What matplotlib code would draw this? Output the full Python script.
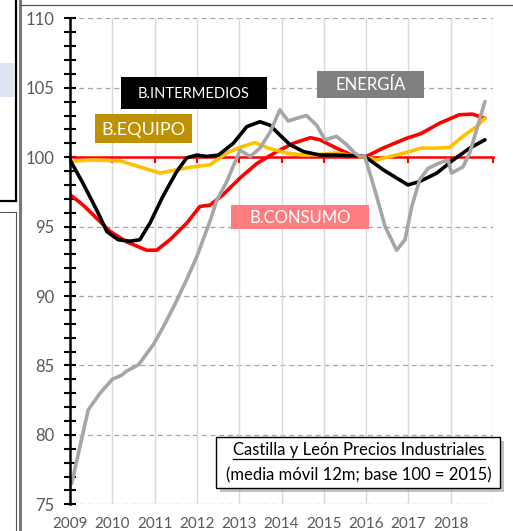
import matplotlib
matplotlib.use("Agg")
from matplotlib import pyplot as plt
from matplotlib.patches import Rectangle
from matplotlib.lines import Line2D
from matplotlib.ticker import MultipleLocator

plt.rcParams['font.family'] = ['Lato', 'DejaVu Sans']

# data (year, index base 100 = 2015)
energia_x = [2009.04, 2009.43, 2009.71, 2010.0, 2010.22, 2010.34, 2010.62, 2010.97, 2011.21, 2011.48,
             2011.76, 2012.0, 2012.31, 2012.47, 2012.7, 2013.02, 2013.26, 2013.49, 2013.73, 2013.96,
             2014.16, 2014.36, 2014.59, 2014.83, 2015.03, 2015.3, 2015.54, 2015.73, 2015.85, 2015.97,
             2016.21, 2016.45, 2016.72, 2016.92, 2017.08, 2017.27, 2017.47, 2017.71, 2017.94, 2018.02,
             2018.29, 2018.45, 2018.61, 2018.73, 2018.81]
energia = [76.5, 81.8, 83.0, 84.0, 84.3, 84.6, 85.05, 86.5, 87.8, 89.4,
           91.2, 92.85, 95.4, 96.9, 98.2, 100.5, 100.05, 100.65, 101.8, 103.4,
           102.6, 102.8, 103.0, 102.3, 101.25, 101.5, 100.9, 100.3, 100.05, 100.05,
           97.6, 95.0, 93.3, 94.05, 96.45, 98.4, 99.2, 99.55, 99.8, 98.85,
           99.3, 100.3, 101.95, 103.2, 104.0]

intermedios_x = [2009.0, 2009.31, 2009.63, 2009.87, 2010.14, 2010.42, 2010.65, 2010.89, 2011.2, 2011.52,
                 2011.76, 2012.0, 2012.23, 2012.51, 2012.86, 2013.18, 2013.49, 2013.73, 2013.96, 2014.2,
                 2014.52, 2014.91, 2015.3, 2015.69, 2015.97, 2016.4, 2016.72, 2016.99, 2017.27, 2017.67,
                 2018.06, 2018.45, 2018.81]
intermedios = [99.8, 98.1, 96.2, 94.65, 94.05, 93.95, 94.05, 95.25, 97.2, 98.95,
               99.95, 100.15, 100.05, 100.15, 101.0, 102.2, 102.55, 102.3, 101.6, 100.9,
               100.4, 100.15, 100.15, 100.1, 100.05, 99.1, 98.5, 98.0, 98.25, 98.85,
               99.8, 100.65, 101.25]

equipo_x = [2009.0, 2009.55, 2010.18, 2010.65, 2011.13, 2011.52, 2011.91, 2012.31, 2012.7, 2013.06,
            2013.37, 2013.69, 2014.12, 2014.52, 2014.91, 2015.3, 2015.69, 2015.97, 2016.25, 2016.64,
            2017.03, 2017.3, 2017.66, 2017.97, 2018.29, 2018.61, 2018.81]
equipo = [99.7, 99.8, 99.73, 99.3, 98.85, 99.1, 99.3, 99.45, 100.3, 100.75,
          101.05, 100.65, 100.3, 100.15, 100.2, 100.3, 100.1, 100.0, 99.8, 100.1,
          100.4, 100.65, 100.65, 100.7, 101.5, 102.2, 102.8]

consumo_x = [2009.0, 2009.31, 2009.63, 2009.95, 2010.34, 2010.81, 2011.05, 2011.36, 2011.76, 2012.07,
             2012.31, 2012.62, 2013.02, 2013.42, 2013.89, 2014.28, 2014.68, 2014.91, 2015.3, 2015.69,
             2015.97, 2016.4, 2016.95, 2017.3, 2017.74, 2018.2, 2018.51, 2018.81]
consumo = [97.3, 96.55, 95.6, 94.65, 93.9, 93.3, 93.3, 94.05, 95.25, 96.45,
           96.55, 97.3, 98.5, 99.55, 100.4, 101.0, 101.4, 101.25, 100.65, 100.1,
           100.0, 100.65, 101.35, 101.7, 102.45, 103.05, 103.1, 102.8]

years = list(range(2009, 2019))

W, H = 513, 531
fig = plt.figure(figsize=(W / 100, H / 100), dpi=100)


def fx(x):
    return x / W


def fy(y):
    return 1 - y / H


# bits of the surrounding spreadsheet
fig.add_artist(Rectangle((0, fy(97)), fx(14), (97 - 63) / H, transform=fig.transFigure,
                         facecolor='#dde5f3', edgecolor='none'))
fig.add_artist(Line2D([fx(16), fx(16)], [fy(0), fy(201)], transform=fig.transFigure, color='black', lw=1.6))
fig.add_artist(Line2D([0, fx(16)], [fy(201), fy(201)], transform=fig.transFigure, color='black', lw=1.6))
fig.add_artist(Line2D([0, fx(16)], [fy(212), fy(212)], transform=fig.transFigure, color='#555555', lw=0.8))
fig.add_artist(Line2D([fx(16), fx(16)], [fy(212), 0], transform=fig.transFigure, color='#555555', lw=0.8))
fig.add_artist(Line2D([fx(19.5), fx(19.5)], [1, 0], transform=fig.transFigure, color='#777777', lw=2.2))
fig.add_artist(Line2D([fx(19.5), 1], [fy(5), fy(5)], transform=fig.transFigure, color='#555555', lw=0.9))

ax = fig.add_axes([fx(70), fy(504.3), fx(493) - fx(70), (504.3 - 18.3) / H])
ax.set_xlim(2009, 2019)
ax.set_ylim(75, 110)

# grid
for yv in range(75, 111, 5):
    if yv != 100:
        ax.axhline(yv, color='#a6a6a6', lw=0.9, ls=(0, (4, 3)), zorder=0)
for xv in range(2010, 2020):
    ax.axvline(xv, color='#d9d9d9', lw=1.0, zorder=0)

ax.plot(consumo_x, consumo, color='#ff0000', lw=2.6, solid_capstyle='round', zorder=3)
ax.plot(equipo_x, equipo, color='#ffc000', lw=2.6, solid_capstyle='round', zorder=3)
ax.plot(intermedios_x, intermedios, color='black', lw=2.6, solid_capstyle='round', zorder=4)
ax.plot(energia_x, energia, color='#a6a6a6', lw=2.6, solid_capstyle='round', zorder=5)

for s in ['top', 'right']:
    ax.spines[s].set_visible(False)
ax.spines['left'].set_linewidth(1.8)
ax.spines['left'].set_zorder(6)
ax.spines['bottom'].set_position(('data', 100))
ax.spines['bottom'].set_color('#ff0000')
ax.spines['bottom'].set_linewidth(1.8)
ax.spines['bottom'].set_zorder(2)

ax.xaxis.set_major_locator(MultipleLocator(1))
ax.tick_params(axis='x', direction='out', length=4, width=1.5, color='#ff0000', labelbottom=False)
ax.yaxis.set_major_locator(MultipleLocator(5))
ax.yaxis.set_minor_locator(MultipleLocator(1))
ax.tick_params(axis='y', which='both', direction='inout', length=9, width=1.5, color='black',
               labelsize=12, labelcolor='#595959', pad=7)

sec = ax.secondary_xaxis('bottom')
sec.set_xticks(years)
sec.set_xticklabels([str(y) for y in years])
sec.tick_params(length=0, pad=9, labelsize=11, labelcolor='#595959')
sec.spines['bottom'].set_visible(False)


def label_box(x0, y0, x1, y1, color, text, size):
    fig.add_artist(Rectangle((fx(x0), fy(y1)), fx(x1 - x0), (y1 - y0) / H, transform=fig.transFigure,
                             facecolor=color, edgecolor='none', zorder=10))
    fig.text(fx((x0 + x1) / 2), fy((y0 + y1) / 2 + 1), text, color='white', fontsize=size,
             ha='center', va='center', zorder=11)


label_box(121, 77, 267, 109, 'black', 'B.INTERMEDIOS', 10.5)
label_box(317, 71, 424, 98, '#808080', 'ENERGÍA', 12)
label_box(95, 114, 192, 143, '#bf9000', 'B.EQUIPO', 13)
label_box(231, 205, 369, 229, '#ff7c80', 'B.CONSUMO', 12)

# title box with shadow
fig.add_artist(Rectangle((fx(220), fy(492)), fx(284), 51 / H, transform=fig.transFigure,
                         facecolor='#9a9a9a', edgecolor='none', alpha=0.6, zorder=12))
fig.add_artist(Rectangle((fx(216), fy(488)), fx(284), 51 / H, transform=fig.transFigure,
                         facecolor='white', edgecolor='black', lw=1.0, zorder=13))
t1 = fig.text(fx(359), fy(450), 'Castilla y León Precios Industriales', fontsize=12,
              ha='center', va='center', zorder=14)
fig.text(fx(359), fy(475), '(media móvil 12m; base 100 = 2015)', fontsize=12,
         ha='center', va='center', zorder=14)
fig.canvas.draw()
bb = t1.get_window_extent().transformed(fig.transFigure.inverted())
fig.add_artist(Line2D([bb.x0, bb.x1], [fy(459), fy(459)], transform=fig.transFigure,
                      color='black', lw=0.9, zorder=14))

fig.savefig('out.png', dpi=100)
